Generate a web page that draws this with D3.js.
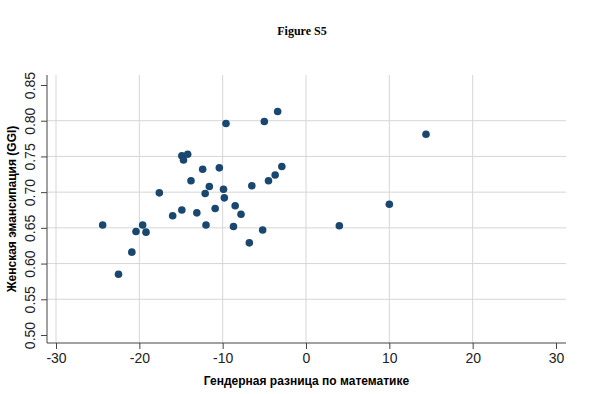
<!DOCTYPE html>
<head>
    <meta charset="utf-8">
    <script src="https://cdn.jsdelivr.net/npm/d3@7"></script>
    <style>
        body { margin: 0; background: #fff; }
        text { font-family: "Liberation Sans", Arial, sans-serif; }
    </style>
</head>
<body>
    <div id="chart"></div>
    <script>
        const width = 604, height = 394;

        // math gender gap (x) vs GGI (y)
        const mathGap = [-24.4, -22.5, -20.9, -20.4, -19.6, -19.2, -17.6, -16.0, -14.9, -14.9,
            -14.7, -14.2, -13.8, -13.1, -12.4, -12.0, -12.1, -11.6, -10.9, -10.4,
            -9.9, -9.8, -9.6, -8.7, -8.5, -7.8, -6.8, -6.5, -5.2, -5.0,
            -4.5, -3.7, -3.4, -2.9, 4.0, 10.0, 14.4];
        const ggi = [0.654, 0.585, 0.616, 0.645, 0.654, 0.644, 0.699, 0.667, 0.675, 0.751,
            0.745, 0.753, 0.716, 0.671, 0.732, 0.654, 0.698, 0.708, 0.677, 0.734,
            0.704, 0.692, 0.796, 0.652, 0.681, 0.669, 0.629, 0.709, 0.647, 0.799,
            0.716, 0.724, 0.813, 0.736, 0.653, 0.683, 0.781];

        const xTicks = [-30, -20, -10, 0, 10, 20, 30];
        const yTicks = [0.50, 0.55, 0.60, 0.65, 0.70, 0.75, 0.80, 0.85];
        const xGrid = [-30, -20, -10, 0, 10, 20];
        const yGrid = [0.55, 0.60, 0.65, 0.70, 0.75, 0.80];

        // plot region borders
        const plotL = 47, plotR = 566, plotT = 75, plotB = 343;

        const x = d3.scaleLinear().domain([-30, 30]).range([56, 556]);
        const y = d3.scaleLinear().domain([0.50, 0.85]).range([335, 85]);

        const svg = d3.select("#chart").append("svg")
            .attr("width", width)
            .attr("height", height);

        svg.append("text")
            .attr("x", 302).attr("y", 35)
            .attr("text-anchor", "middle")
            .style("font-family", "'Liberation Serif', 'Times New Roman', serif")
            .style("font-weight", "bold")
            .style("font-size", "12px")
            .text("Figure S5");

        // gridlines
        svg.append("g").selectAll("line")
            .data(xGrid).enter().append("line")
            .attr("x1", d => x(d)).attr("x2", d => x(d))
            .attr("y1", plotT).attr("y2", plotB)
            .attr("stroke", "#d6d6d6").attr("stroke-width", 1);

        svg.append("g").selectAll("line")
            .data(yGrid).enter().append("line")
            .attr("x1", plotL).attr("x2", plotR)
            .attr("y1", d => y(d)).attr("y2", d => y(d))
            .attr("stroke", "#d6d6d6").attr("stroke-width", 1);

        // axes (plain hyphen minus, like the original)
        const xAxis = svg.append("g")
            .attr("transform", `translate(0,${plotB})`)
            .call(d3.axisBottom(x).tickValues(xTicks).tickSize(6).tickPadding(4).tickFormat(d => String(d)));
        xAxis.select(".domain").attr("d", `M${plotL},0H${plotR}`).attr("stroke", "#444");
        xAxis.selectAll(".tick line").attr("stroke", "#444");
        xAxis.selectAll(".tick text")
            .style("font-size", "14px").attr("fill", "#222");

        const yAxis = svg.append("g")
            .attr("transform", `translate(${plotL},0)`)
            .call(d3.axisLeft(y).tickValues(yTicks).tickSize(6).tickFormat(d => d.toFixed(2)));
        yAxis.select(".domain").attr("d", `M0,${plotT}V${plotB}`).attr("stroke", "#444");
        yAxis.selectAll(".tick line").attr("stroke", "#444");
        yAxis.selectAll(".tick text")
            .attr("x", 0).attr("dy", 0)
            .attr("transform", "translate(-12,0) rotate(-90)")
            .attr("text-anchor", "middle")
            .style("font-size", "14px").attr("fill", "#222");

        svg.append("text")
            .attr("x", (plotL + plotR) / 2).attr("y", 385)
            .attr("text-anchor", "middle")
            .style("font-weight", "bold").style("font-size", "12px")
            .text("Гендерная разница по математике");

        svg.append("text")
            .attr("transform", `translate(16,${(plotT + plotB) / 2}) rotate(-90)`)
            .attr("text-anchor", "middle")
            .style("font-weight", "bold").style("font-size", "12px")
            .text("Женская эмансипация (GGI)");

        // points
        svg.append("g").selectAll("circle")
            .data(mathGap.map((v, i) => [v, ggi[i]]))
            .enter().append("circle")
            .attr("cx", d => x(d[0]))
            .attr("cy", d => y(d[1]))
            .attr("r", 3.8)
            .attr("fill", "#1a476f");
    </script>
</body>
